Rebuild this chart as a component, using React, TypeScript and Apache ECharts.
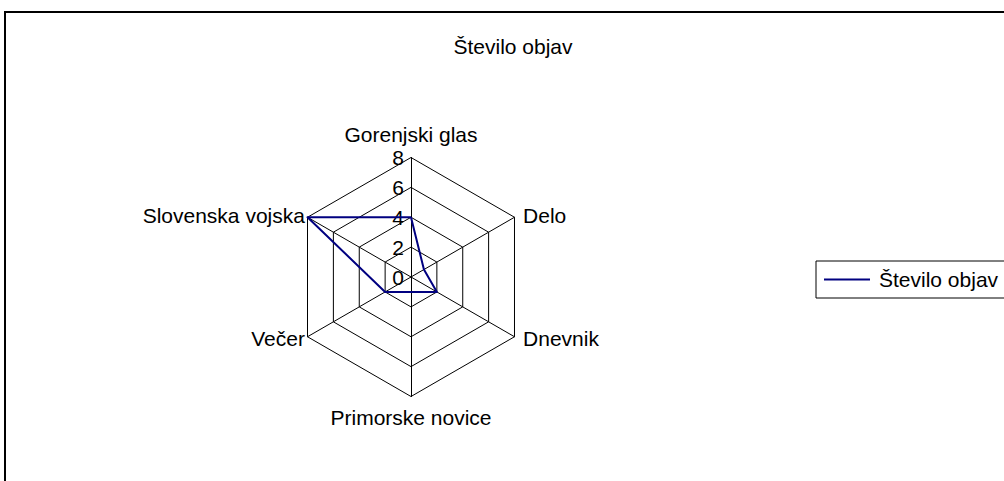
import React, { useEffect, useRef } from "react";
import * as echarts from "echarts";

const titleText = "Število objav";
const seriesName = "Število objav";
// listed clockwise from the top, as in the reference
const indicators = ["Gorenjski glas", "Delo", "Dnevnik", "Primorske novice", "Večer", "Slovenska vojska"];
const values = [4, 1, 2, 1, 2, 8];
const axisMax = 8;
const splitCount = 4;

const FONT = "Liberation Sans, Arial, sans-serif";
const FS = 21;

// ECharts lays radar axes counter-clockwise; reverse (keeping the first) to go clockwise
const order = [0, ...indicators.map((_, i) => i).slice(1).reverse()];

export default function App() {
  const ref = useRef<HTMLDivElement>(null);
  useEffect(() => {
    if (!ref.current) return;
    const chart = echarts.init(ref.current, null, { renderer: "svg" });
    const txt = { fontSize: FS, color: "#000", fontFamily: FONT };
    chart.setOption({
      animation: false,
      backgroundColor: "#fff",
      textStyle: { fontFamily: FONT },
      title: {
        text: titleText,
        left: 508,
        top: 31,
        textAlign: "center",
        textStyle: { ...txt, fontWeight: "normal" },
      },
      legend: {
        left: 816,
        top: 261,
        orient: "vertical",
        padding: [8, 60, 8, 8],
        borderColor: "#000",
        borderWidth: 1,
        borderRadius: 0,
        icon: "rect",
        itemWidth: 46,
        itemHeight: 2,
        itemGap: 5,
        textStyle: { ...txt, padding: [0, 0, 0, 4] },
        data: [seriesName],
      },
      radar: {
        center: [411, 277],
        radius: 119.5,
        startAngle: 90,
        shape: "polygon",
        splitNumber: splitCount,
        nameGap: 3,
        axisName: {
          ...txt,
          rich: {
            top: { ...txt, padding: [0, 0, 10, 0] },
            bottom: { ...txt, padding: [7, 0, 0, 0] },
            right: { ...txt, padding: [0, 0, 0, 6] },
            left: { ...txt },
          },
          formatter: (name: string) => {
            const i = indicators.indexOf(name);
            if (i === 0) return "{top|" + name + "}";
            if (i === 3) return "{bottom|" + name + "}";
            if (i === 1 || i === 2) return "{right|" + name + "}";
            return "{left|" + name + "}";
          },
        },
        indicator: order.map((idx, k) => ({
          name: indicators[idx],
          min: 0,
          max: axisMax,
          axisLabel: k === 0 ? { show: true } : { show: false },
        })),
        axisLine: { show: true, lineStyle: { color: "#000", width: 1 } },
        splitLine: { show: true, lineStyle: { color: "#000", width: 1 } },
        splitArea: { show: false },
        axisTick: { show: false },
        axisLabel: { show: false, ...txt, margin: 7 },
      },
      graphic: [
        {
          type: "rect",
          shape: { x: 5, y: 12, width: 1100, height: 600 },
          style: { fill: "none", stroke: "#000", lineWidth: 2 },
          silent: true,
        },
      ],
      series: [
        {
          name: seriesName,
          type: "radar",
          symbol: "none",
          lineStyle: { color: "#000080", width: 2 },
          itemStyle: { color: "#000080" },
          data: [{ value: order.map((idx) => values[idx]), name: seriesName }],
        },
      ],
    });
    return () => chart.dispose();
  }, []);
  return (
    <div
      ref={ref}
      style={{ position: "fixed", left: 0, top: 0, width: 1004, height: 481 }}
    />
  );
}
